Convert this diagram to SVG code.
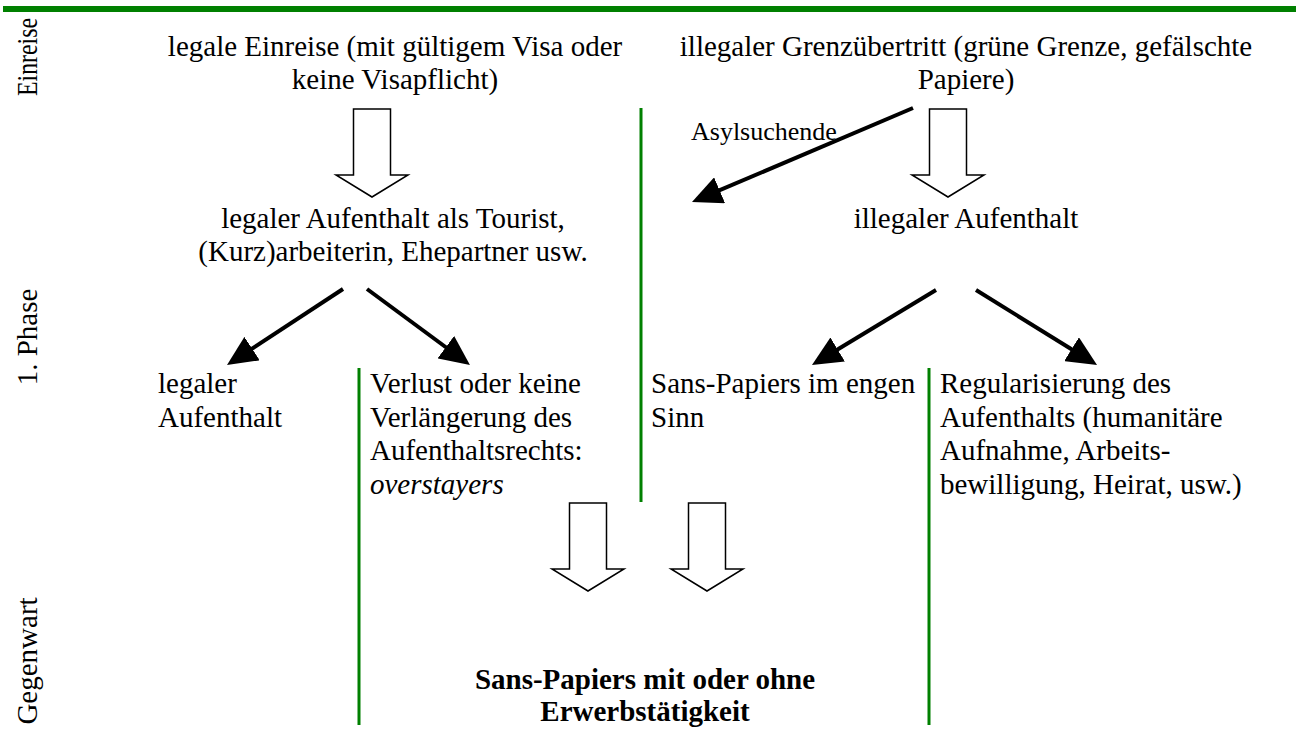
<svg xmlns="http://www.w3.org/2000/svg" width="1296" height="736" viewBox="0 0 1296 736">
<style>
text { font-family: "Liberation Serif", "Times New Roman", serif; font-size: 29px; fill: #000; }
.side { font-size: 29px; }
.small { font-size: 26px; }
.bold { font-weight: bold; }
.mid { text-anchor: middle; }
.green { stroke: #008000; stroke-width: 3; }
.hollow { fill: #fff; stroke: #000; stroke-width: 1.5; stroke-linejoin: miter; }
.arrow { stroke: #000; stroke-width: 4; fill: none; marker-end: url(#head); }
</style>
<defs>
<marker id="head" viewBox="0 0 30 28" refX="19" refY="14" markerWidth="30" markerHeight="28" markerUnits="userSpaceOnUse" orient="auto">
<path d="M0,0 L30,14 L0,28 z" fill="#000"/>
</marker>
<polygon id="hollowArrow" class="hollow" points="-18.5,0 18.5,0 18.5,66 36,66 0,88 -36,66 -18.5,66"/>
</defs>
<rect x="3" y="6" width="1293" height="6" fill="#008000"/>
<g id="side-labels">
<text class="side mid" transform="translate(37,57) rotate(-90)" textLength="78" lengthAdjust="spacingAndGlyphs">Einreise</text>
<text class="side mid" transform="translate(37,337) rotate(-90)">1. Phase</text>
<text class="side mid" transform="translate(37,661) rotate(-90)">Gegenwart</text>
</g>
<g id="dividers">
<line class="green" x1="641" y1="108" x2="641" y2="502"/>
<line class="green" x1="359" y1="368" x2="359" y2="725"/>
<line class="green" x1="929" y1="368" x2="929" y2="725"/>
</g>
<g id="legal-entry">
<text class="mid" x="395" y="56">legale Einreise (mit gültigem Visa oder</text>
<text class="mid" x="395" y="89">keine Visapflicht)</text>
</g>
<g id="illegal-entry">
<text class="mid" x="966" y="56">illegaler Grenzübertritt (grüne Grenze, gefälschte</text>
<text class="mid" x="966" y="89">Papiere)</text>
</g>
<g id="legal-stay">
<text class="mid" x="393" y="228">legaler Aufenthalt als Tourist,</text>
<text class="mid" x="393" y="261">(Kurz)arbeiterin, Ehepartner usw.</text>
</g>
<g id="illegal-stay">
<text class="mid" x="966" y="228">illegaler Aufenthalt</text>
</g>
<g id="legal-residence">
<text x="158" y="393">legaler</text>
<text x="158" y="427">Aufenthalt</text>
</g>
<g id="overstayers">
<text x="370" y="393">Verlust oder keine</text>
<text x="370" y="427">Verlängerung des</text>
<text x="370" y="460">Aufenthaltsrechts:</text>
<text x="370" y="494" font-style="italic">overstayers</text>
</g>
<g id="sans-papiers-narrow">
<text x="651" y="393">Sans-Papiers im engen</text>
<text x="651" y="427">Sinn</text>
</g>
<g id="regularisation">
<text x="940" y="393">Regularisierung des</text>
<text x="940" y="427">Aufenthalts (humanitäre</text>
<text x="940" y="460">Aufnahme, Arbeits-</text>
<text x="940" y="494">bewilligung, Heirat, usw.)</text>
</g>
<g id="present">
<text class="mid bold" x="645" y="689">Sans-Papiers mit oder ohne</text>
<text class="mid bold" x="645" y="721">Erwerbstätigkeit</text>
</g>
<g id="connectors">
<use href="#hollowArrow" x="372" y="109"/>
<use href="#hollowArrow" x="948" y="109"/>
<use href="#hollowArrow" x="588" y="503"/>
<use href="#hollowArrow" x="707" y="503"/>
<line class="arrow" x1="913" y1="108" x2="702.1" y2="197.7"/>
<line class="arrow" x1="343" y1="289" x2="236.2" y2="359"/>
<line class="arrow" x1="367" y1="289" x2="461.1" y2="358.5"/>
<line class="arrow" x1="936" y1="290" x2="821.4" y2="359.3"/>
<line class="arrow" x1="976" y1="290" x2="1087.7" y2="359.2"/>
<text class="small" x="691" y="140">Asylsuchende</text>
</g>
</svg>
